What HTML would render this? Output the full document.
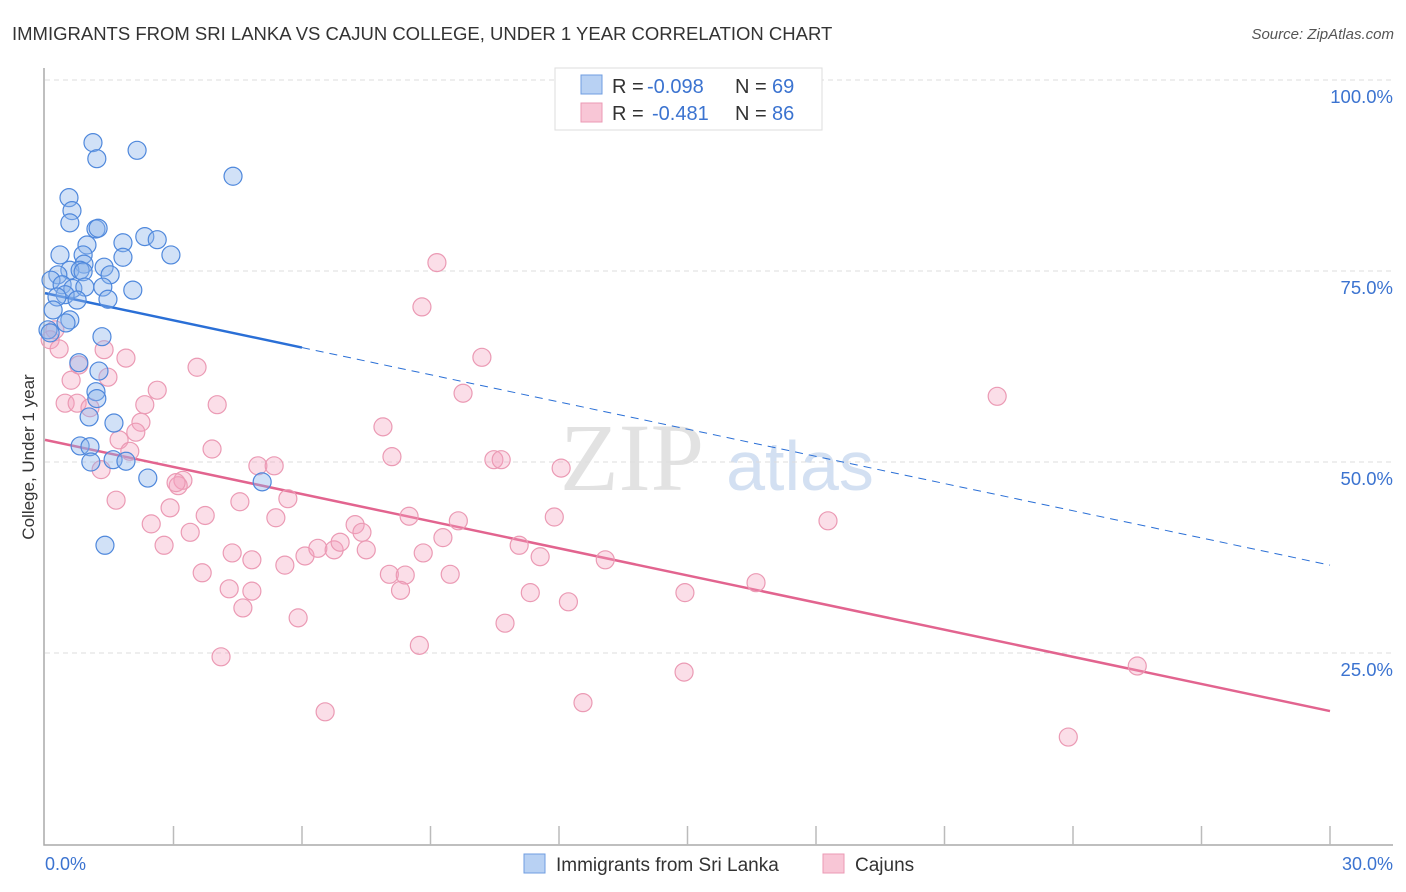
<!DOCTYPE html>
<html><head><meta charset="utf-8"><style>
body{margin:0;background:#fff;font-family:"Liberation Sans",sans-serif;}
svg{display:block}
</style></head><body>
<svg id="chart" width="1406" height="892">
<text x="12" y="40" font-size="18.5" fill="#333">IMMIGRANTS FROM SRI LANKA VS CAJUN COLLEGE, UNDER 1 YEAR CORRELATION CHART</text>
<text x="1394" y="39" font-size="15" fill="#555" font-style="italic" text-anchor="end">Source: ZipAtlas.com</text>
<text x="34" y="457" font-size="17" fill="#333" text-anchor="middle" transform="rotate(-90 34 457)">College, Under 1 year</text>
<g>
<text x="632" y="490" font-size="96" fill="#e2e2e2" font-family="Liberation Serif,serif" text-anchor="middle">ZIP</text>
<text x="800" y="490" font-size="70" fill="#d3e0f2" text-anchor="middle">atlas</text>
</g>
<g id="grid"></g>
<g id="axes"></g>
<g id="trends"></g>
<g id="pts"></g>
<g>
<rect x="555" y="68" width="267" height="62" fill="#fff" stroke="#ddd"/>
<rect x="581" y="75" width="21" height="19" fill="#b8d1f3" stroke="#6f9de0"/>
<rect x="581" y="103" width="21" height="19" fill="#f8c6d6" stroke="#eb9ab4"/>
<text x="612" y="93" font-size="20" fill="#333">R =</text>
<text x="647" y="93" font-size="20" fill="#3b73d0">-0.098</text>
<text x="735" y="93" font-size="20" fill="#333">N =</text>
<text x="772" y="93" font-size="20" fill="#3b73d0">69</text>
<text x="612" y="120" font-size="20" fill="#333">R =</text>
<text x="652" y="120" font-size="20" fill="#3b73d0">-0.481</text>
<text x="735" y="120" font-size="20" fill="#333">N =</text>
<text x="772" y="120" font-size="20" fill="#3b73d0">86</text>
</g>
<g>
<rect x="524" y="854" width="21" height="19" fill="#b8d1f3" stroke="#6f9de0"/>
<text x="556" y="871" font-size="19" fill="#333">Immigrants from Sri Lanka</text>
<rect x="823" y="854" width="21" height="19" fill="#f8c6d6" stroke="#eb9ab4"/>
<text x="855" y="871" font-size="19" fill="#333">Cajuns</text>
</g>
</svg>
<script>
const yTicks=[25,50,75,100];
const yTickLabels=["25.0%","50.0%","75.0%","100.0%"];
const xTickLabels=["0.0%","30.0%"];
const blueX=[1.12,1.21,2.15,4.39,0.56,0.63,0.58,1.19,1.24,2.33,2.62,1.82,0.98,0.89,0.35,1.82,2.94,0.91,1.38,0.58,0.30,0.82,1.52,0.89,0.14,0.40,0.65,0.93,1.35,2.05,0.47,0.28,0.75,1.47,0.19,0.58,0.49,0.07,0.12,1.33,0.79,1.26,1.19,1.21,1.03,1.61,0.82,1.05,1.07,1.59,1.89,2.40,5.07,1.40];
const blueY=[91.8,89.7,90.8,87.4,84.6,82.9,81.3,80.5,80.6,79.5,79.1,78.7,78.4,77.1,77.1,76.8,77.1,75.9,75.5,75.1,74.5,75.1,74.5,74.9,73.8,73.2,72.7,72.9,72.9,72.5,71.9,71.6,71.2,71.3,69.9,68.6,68.2,67.3,66.9,66.4,63.0,61.9,59.2,58.3,55.9,55.1,52.1,52.0,50.0,50.3,50.1,47.9,47.4,39.1];
const pinkX=[0.23,0.12,0.33,1.38,1.89,0.79,3.55,1.47,0.61,2.62,0.47,0.75,2.33,4.02,1.05,2.24,2.12,1.73,3.90,1.98,1.31,3.22,3.11,3.06,1.66,4.55,5.67,2.92,3.74,5.39,2.48,3.39,2.78,4.37,4.83,6.07,6.37,6.75,6.89,7.24,7.40,7.50,5.60,3.67,4.30,4.83,4.62,5.91,4.11,6.54,4.97,5.35,7.89,8.10,8.50,8.83,8.04,8.41,8.30,8.74,8.80,9.15,9.29,9.46,9.65,10.20,9.76,10.48,10.65,11.07,11.33,11.56,10.74,11.89,12.05,12.22,12.56,13.08,14.94,14.92,16.60,18.28,22.23,25.50,23.89];
const pinkY=[67.3,66.0,64.8,64.7,63.6,62.7,62.4,61.1,60.7,59.4,57.7,57.7,57.5,57.5,57.1,55.2,53.9,52.9,51.7,51.4,49.0,47.6,46.9,47.3,45.0,44.8,45.2,44.0,43.0,42.7,41.9,40.8,39.1,38.1,37.2,37.7,38.7,38.5,39.5,41.8,40.8,38.5,36.5,35.5,33.4,33.1,30.9,29.6,24.5,17.3,49.5,49.5,54.6,50.7,42.9,38.1,35.3,35.2,33.2,26.0,70.3,76.1,40.1,35.3,42.3,63.7,59.0,50.3,50.3,39.1,32.9,37.6,28.9,42.8,49.2,31.7,18.5,37.2,32.9,22.5,34.2,42.3,58.6,23.3,14.0];
const blueTrend=[72.1,36.5];
const pinkTrend=[52.9,17.4];
const NS="http://www.w3.org/2000/svg";
const X=v=>45+(v/30)*1285;
const Y=v=>844-(v/100)*764;
function mk(tag,attrs,parent){const e=document.createElementNS(NS,tag);for(const k in attrs)e.setAttribute(k,attrs[k]);parent.appendChild(e);return e;}
const grid=document.getElementById('grid'),axes=document.getElementById('axes'),tr=document.getElementById('trends'),pts=document.getElementById('pts');
yTicks.forEach((t,i)=>{
 const l=mk('line',{x1:45,x2:1393,y1:Y(t),y2:Y(t),stroke:'#ddd','stroke-dasharray':'5,4'},grid);
 
 
 const tx=mk('text',{x:1393,y:Y(t)+23,'font-size':18.5,fill:'#3b73d0','text-anchor':'end'},grid);
 tx.textContent=yTickLabels[i];
 
 
});
const ax=mk('path',{d:'M44 68 V845 H1393',fill:'none',stroke:'#aaa','stroke-width':1.5},axes);


for(let i=1;i<=10;i++){const tk=mk('line',{x1:X(i*3),x2:X(i*3),y1:826,y2:845,stroke:'#bbb','stroke-width':1.5},axes);
 
 }
[[0,'start',45],[30,'end',1393]].forEach((a,i)=>{const tx=mk('text',{x:a[2],y:870,'font-size':18,fill:'#3b73d0','text-anchor':a[1]},axes);tx.textContent=xTickLabels[i];
 
 });
const bAt=x=>blueTrend[0]+(blueTrend[1]-blueTrend[0])*x/30;
let l1=mk('line',{x1:X(0),y1:Y(bAt(0)),x2:X(6),y2:Y(bAt(6)),stroke:'#2a6fd6','stroke-width':2.5},tr);


let l2=mk('line',{x1:X(6),y1:Y(bAt(6)),x2:X(30),y2:Y(bAt(30)),stroke:'#2a6fd6','stroke-width':1,'stroke-dasharray':'8,6'},tr);


let l3=mk('line',{x1:X(0),y1:Y(pinkTrend[0]),x2:X(30),y2:Y(pinkTrend[1]),stroke:'#e2648f','stroke-width':2.5},tr);


pinkX.forEach((x,i)=>{const c=mk('circle',{cx:X(x),cy:Y(pinkY[i]),r:9,fill:'rgba(244,160,188,0.35)',stroke:'#eb9ab4','stroke-width':1.2},pts);
 
 });
blueX.forEach((x,i)=>{const c=mk('circle',{cx:X(x),cy:Y(blueY[i]),r:9,fill:'rgba(140,180,235,0.4)',stroke:'#4f88dc','stroke-width':1.2},pts);
 
 });
</script>
</body></html>
